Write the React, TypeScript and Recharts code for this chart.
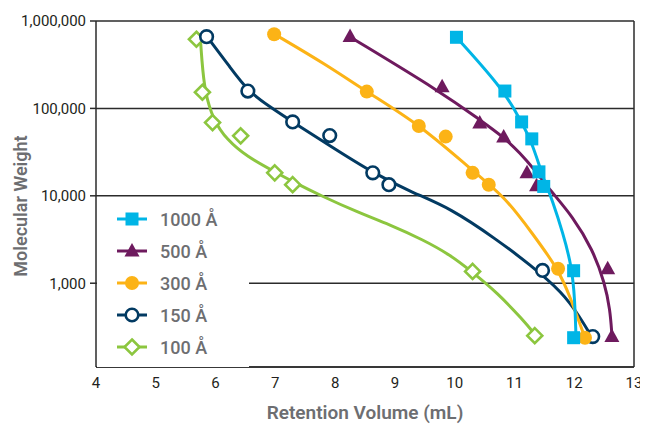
import {
  ComposedChart,
  Line,
  Scatter,
  XAxis,
  YAxis,
  CartesianGrid,
  ReferenceLine,
  Legend,
  Label,
} from "recharts";

// measured points (markers)
const pts1000 = [
  { x: 10.03, y: 651000 }, { x: 10.84, y: 158000 }, { x: 11.12, y: 70000 }, { x: 11.29, y: 44800 },
  { x: 11.41, y: 18800 }, { x: 11.49, y: 12800 }, { x: 11.99, y: 1390 }, { x: 11.99, y: 238 },
];
const pts500 = [
  { x: 8.25, y: 663000 }, { x: 9.79, y: 177000 }, { x: 10.42, y: 68300 }, { x: 10.82, y: 47200 },
  { x: 11.21, y: 18300 }, { x: 11.37, y: 13000 }, { x: 12.56, y: 1465 }, { x: 12.63, y: 245 },
];
const pts300 = [
  { x: 6.98, y: 705000 }, { x: 8.53, y: 155600 }, { x: 9.4, y: 63000 }, { x: 9.85, y: 47600 },
  { x: 10.3, y: 18300 }, { x: 10.57, y: 13400 }, { x: 11.73, y: 1465 }, { x: 12.18, y: 238 },
];
const pts150 = [
  { x: 5.85, y: 662000 }, { x: 6.54, y: 158000 }, { x: 7.29, y: 70100 }, { x: 7.91, y: 48900 },
  { x: 8.63, y: 18300 }, { x: 8.9, y: 13400 }, { x: 11.47, y: 1400 }, { x: 12.31, y: 245 },
];
const pts100 = [
  { x: 5.68, y: 618000 }, { x: 5.78, y: 153000 }, { x: 5.95, y: 68800 }, { x: 6.42, y: 48500 },
  { x: 6.99, y: 18300 }, { x: 7.29, y: 13400 }, { x: 10.3, y: 1365 }, { x: 11.34, y: 251 },
];

// fitted curves
const fit1000 = [
  { x: 10.03, y: 651000 }, { x: 10.84, y: 158000 }, { x: 11.11, y: 70000 }, { x: 11.27, y: 44800 },
  { x: 11.45, y: 18800 }, { x: 11.53, y: 13400 }, { x: 11.63, y: 9000 }, { x: 11.81, y: 3780 },
  { x: 11.96, y: 1545 }, { x: 12.01, y: 648 }, { x: 12.03, y: 238 },
];
const fit500 = [
  { x: 8.25, y: 657000 }, { x: 9.8, y: 150000 }, { x: 10.42, y: 74000 }, { x: 10.82, y: 47000 },
  { x: 11.09, y: 31000 }, { x: 11.34, y: 19800 }, { x: 11.59, y: 11700 }, { x: 11.98, y: 5750 },
  { x: 12.31, y: 2415 }, { x: 12.51, y: 1013 }, { x: 12.6, y: 498 }, { x: 12.63, y: 258 },
];
const fit300 = [
  { x: 6.98, y: 710000 }, { x: 7.86, y: 314000 }, { x: 8.53, y: 154000 }, { x: 9.42, y: 64800 },
  { x: 10.3, y: 19300 }, { x: 10.84, y: 9750 }, { x: 11.29, y: 3780 }, { x: 11.73, y: 1465 },
  { x: 11.93, y: 701 }, { x: 12.13, y: 294 }, { x: 12.18, y: 238 },
];
const fit150 = [
  { x: 5.86, y: 657000 }, { x: 6.24, y: 298000 }, { x: 6.54, y: 158000 }, { x: 6.91, y: 104000 },
  { x: 7.29, y: 70000 }, { x: 7.91, y: 37500 }, { x: 8.63, y: 18300 }, { x: 9.3, y: 10800 },
  { x: 9.92, y: 7290 }, { x: 10.71, y: 3140 }, { x: 11.26, y: 1630 }, { x: 11.81, y: 779 },
  { x: 12.09, y: 414 }, { x: 12.29, y: 245 },
];
const fit100 = [
  { x: 5.74, y: 729000 }, { x: 5.77, y: 358000 }, { x: 5.82, y: 154000 }, { x: 5.96, y: 74000 },
  { x: 6.19, y: 43700 }, { x: 6.53, y: 27900 }, { x: 6.96, y: 19300 }, { x: 7.29, y: 14500 },
  { x: 7.8, y: 9750 }, { x: 8.36, y: 6570 }, { x: 8.92, y: 4660 }, { x: 9.47, y: 3140 },
  { x: 9.92, y: 2120 }, { x: 10.29, y: 1350 }, { x: 10.71, y: 779 }, { x: 11.14, y: 383 },
  { x: 11.36, y: 251 },
];

const X_TICKS = [4, 5, 6, 7, 8, 9, 10, 11, 12, 13];
const Y_TICKS = [1000, 10000, 100000, 1000000];

const FONT = "Roboto, sans-serif";
const AXIS = "#2b2b2b";
const TITLE = "#6d6e71";

type Mark = (cx: number, cy: number, c: string) => JSX.Element;

const square: Mark = (cx, cy, c) => <rect x={cx - 6.5} y={cy - 6.5} width={13} height={13} fill={c} />;
const triangle: Mark = (cx, cy, c) => (
  <polygon points={`${cx},${cy - 8} ${cx - 7.5},${cy + 5.5} ${cx + 7.5},${cy + 5.5}`} fill={c} />
);
const dot: Mark = (cx, cy, c) => <circle cx={cx} cy={cy} r={7} fill={c} />;
const ring: Mark = (cx, cy, c) => <circle cx={cx} cy={cy} r={6.3} fill="#fff" stroke={c} strokeWidth={2.6} />;
const diamond: Mark = (cx, cy, c) => (
  <polygon
    points={`${cx},${cy - 7.5} ${cx + 7.5},${cy} ${cx},${cy + 7.5} ${cx - 7.5},${cy}`}
    fill="#fff"
    stroke={c}
    strokeWidth={2.6}
  />
);

const SERIES = [
  { name: "1000 Å", color: "#00b5e6", pts: pts1000, fit: fit1000, mark: square },
  { name: "500 Å", color: "#6e1a5e", pts: pts500, fit: fit500, mark: triangle },
  { name: "300 Å", color: "#fcb316", pts: pts300, fit: fit300, mark: dot },
  { name: "150 Å", color: "#023a62", pts: pts150, fit: fit150, mark: ring },
  { name: "100 Å", color: "#8cc63f", pts: pts100, fit: fit100, mark: diamond },
];

function LegendBox() {
  return (
    <div style={{ background: "#fff", width: 152, height: 166, paddingTop: 2, boxSizing: "border-box" }}>
      {SERIES.map((s) => (
        <div key={s.name} style={{ display: "flex", alignItems: "center", height: 32 }}>
          <svg width={34} height={20} style={{ marginLeft: 18 }}>
            <line x1={2} x2={32} y1={10} y2={10} stroke={s.color} strokeWidth={3} />
            {s.mark(17, 10, s.color)}
          </svg>
          <span style={{ marginLeft: 11, fontSize: 18, fontWeight: 500, color: TITLE, fontFamily: FONT }}>
            {s.name}
          </span>
        </div>
      ))}
    </div>
  );
}

const titleStyle = { fill: TITLE, fontSize: 19, fontWeight: 600, fontFamily: FONT };

export default function App() {
  // draw bottom-most series first
  const order = [...SERIES].reverse();
  return (
    <div style={{ width: 640, height: 417, fontFamily: FONT }}>
      <ComposedChart width={640} height={417} margin={{ top: 13, right: 14, left: 0, bottom: 0 }}>
        <CartesianGrid vertical={false} stroke={AXIS} strokeWidth={1.5} />
        <XAxis
          type="number"
          dataKey="x"
          domain={[4, 13]}
          ticks={X_TICKS}
          allowDataOverflow
          height={58}
          tickLine={false}
          tickSize={8}
          tickMargin={2}
          axisLine={{ stroke: AXIS, strokeWidth: 1.5 }}
          tick={{ fill: "#231f20", fontSize: 15, fontFamily: FONT }}
        >
          <Label
            content={() => (
              <text x={357} y={404} textAnchor="middle" dominantBaseline="central" style={titleStyle}>
                Retention Volume (mL)
              </text>
            )}
          />
        </XAxis>
        <YAxis
          type="number"
          scale="log"
          domain={[110, 1000000]}
          ticks={Y_TICKS}
          allowDataOverflow
          width={88}
          tickSize={6}
          tickMargin={4}
          tickFormatter={(v: number) => v.toLocaleString("en-US")}
          tickLine={{ stroke: AXIS, strokeWidth: 1.5 }}
          axisLine={{ stroke: AXIS, strokeWidth: 1.5 }}
          tick={{ fill: "#231f20", fontSize: 15, fontFamily: FONT }}
        >
          <Label
            content={() => (
              <text
                x={12}
                y={198}
                transform="rotate(-90 12 198)"
                textAnchor="middle"
                dominantBaseline="central"
                style={{ ...titleStyle, fontSize: 18 }}
              >
                Molecular Weight
              </text>
            )}
          />
        </YAxis>
        <ReferenceLine x={13} stroke={AXIS} strokeWidth={1.5} />
        {order.map((s) => [
          <Line
            key={s.name + "-fit"}
            data={s.fit}
            dataKey="y"
            type="basis"
            stroke={s.color}
            strokeWidth={3}
            dot={false}
            activeDot={false}
            legendType="none"
            isAnimationActive={false}
          />,
          <Scatter
            key={s.name + "-pts"}
            name={s.name}
            data={s.pts}
            dataKey="y"
            fill={s.color}
            shape={(p: any) => s.mark(p.cx, p.cy, s.color)}
            isAnimationActive={false}
          />,
        ])}
        <Legend
          layout="horizontal"
          verticalAlign="middle"
          align="center"
          content={() => <LegendBox />}
          wrapperStyle={{ left: 89, top: 193, width: 152, height: 166 }}
        />
      </ComposedChart>
    </div>
  );
}
